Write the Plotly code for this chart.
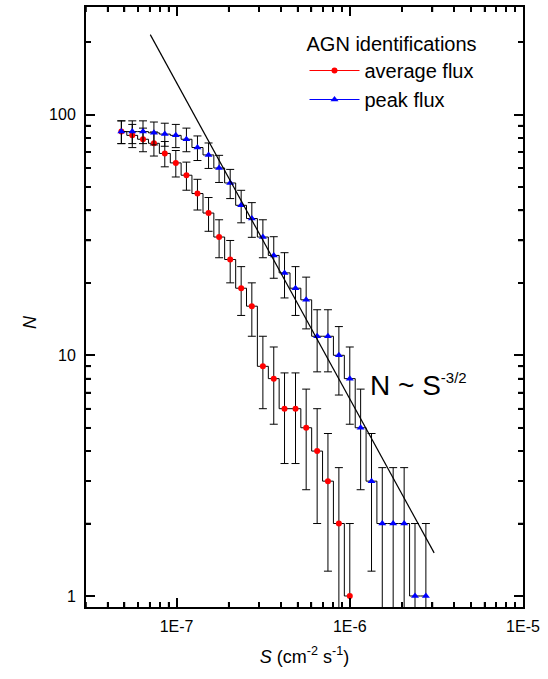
import numpy as np
import plotly.graph_objects as go

# Flux bins (cm^-2 s^-1), logarithmically spaced
flux = [4.8e-8, 5.55e-8, 6.4e-8, 7.4e-8, 8.55e-8, 9.9e-8, 1.14e-7, 1.32e-7,
        1.53e-7, 1.76e-7, 2.04e-7, 2.36e-7, 2.72e-7, 3.15e-7, 3.64e-7, 4.2e-7,
        4.86e-7, 5.6e-7, 6.48e-7, 7.48e-7, 8.65e-7, 1.0e-6, 1.155e-6, 1.335e-6,
        1.54e-6, 1.78e-6, 2.06e-6, 2.38e-6, 2.75e-6]

# Cumulative counts of AGN identifications above each flux
n_average = [85, 82, 79, 76, 69, 63, 56, 47, 39, 31, 25, 19, 16, 9, 8, 6, 6,
             5, 4, 3, 2, 1]
n_peak = [85, 85, 85, 84, 83, 82, 79, 73, 68, 60, 52, 42, 37, 31, 26, 22, 19,
          17, 12, 12, 10, 8, 5, 3, 2, 2, 2, 1, 1]

# Reference power-law line endpoints
law_s = [7.05e-8, 3.07e-6]
law_n = [215, 1.51]

FONT = "Liberation Sans, Arial, sans-serif"

X_MIN, X_MAX = 3e-8, 1e-5
Y_MIN, Y_MAX = 0.9, 280

# Minor tick positions (2..9 in each decade) inside the axis ranges
x_minor = [m * 10.0 ** e for e in (-8, -7, -6) for m in range(2, 10)
           if X_MIN <= m * 10.0 ** e <= X_MAX]
y_minor = [m * 10.0 ** e for e in (0, 1, 2) for m in range(2, 10)
           if Y_MIN <= m * 10.0 ** e <= Y_MAX]

fig = go.Figure()


def add_series(counts, color, symbol, size, name):
    s = flux[:len(counts)]
    err = np.sqrt(np.array(counts, dtype=float))
    fig.add_trace(go.Scatter(
        x=s, y=counts, mode="lines+markers",
        line=dict(color="black", width=1, shape="hvh"),
        marker=dict(color=color, symbol=symbol, size=size, line=dict(width=0)),
        error_y=dict(type="data", array=err, color="black", thickness=1, width=4),
        showlegend=False, hoverinfo="skip",
    ))
    # legend entry
    fig.add_trace(go.Scatter(
        x=[None], y=[None], mode="lines+markers", name=name,
        line=dict(color=color, width=1),
        marker=dict(color=color, symbol=symbol, size=size),
    ))


add_series(n_average, "#ff0000", "circle", 6, "average flux")
add_series(n_peak, "#0000ff", "triangle-up", 7, "peak flux")

fig.add_trace(go.Scatter(
    x=law_s, y=law_n, mode="lines", line=dict(color="black", width=1.2),
    showlegend=False, hoverinfo="skip",
))

fig.add_annotation(
    x=np.log10(1.27e-6), y=np.log10(7.5), xref="x", yref="y",
    text="N ~ S<sup><span style='font-size:15px'>-3/2</span></sup>",
    showarrow=False, xanchor="left", yanchor="middle",
    font=dict(family=FONT, size=28, color="black"),
)

# y-axis title placed as a rotated annotation
fig.add_annotation(
    x=-0.128, y=0.475, xref="paper", yref="paper",
    text="<i>N</i>", textangle=-90, showarrow=False,
    xanchor="center", yanchor="middle",
    font=dict(family=FONT, size=18, color="black"),
)

# Minor ticks on all four sides: short pixel-length lines at data positions
tick_line = dict(color="black", width=1.6)
MINOR_LEN = 5
for v in x_minor:
    for anchor, sign in ((0, 1), (1, -1)):
        fig.add_shape(type="line", xref="x", yref="paper",
                      x0=v, x1=v, ysizemode="pixel", yanchor=anchor,
                      y0=0, y1=sign * MINOR_LEN, line=tick_line)
for v in y_minor:
    for anchor, sign in ((0, 1), (1, -1)):
        fig.add_shape(type="line", xref="paper", yref="y",
                      y0=v, y1=v, xsizemode="pixel", xanchor=anchor,
                      x0=0, x1=sign * MINOR_LEN, line=tick_line)

axis_common = dict(
    type="log", showline=True, linecolor="black", linewidth=2,
    mirror="allticks", ticks="inside", ticklen=9, tickwidth=1.6,
    tickcolor="black", showgrid=False, zeroline=False,
    tickfont=dict(family=FONT, size=16, color="black"),
)


def minor_ticks(vals):
    return dict(ticks="inside", ticklen=5, tickwidth=1.6, tickcolor="black",
                showgrid=False, tickmode="array", tickvals=vals)


fig.update_layout(
    xaxis=dict(
        **axis_common, range=[np.log10(X_MIN), np.log10(X_MAX)],
        tickvals=[1e-7, 1e-6, 1e-5], ticktext=["1E-7", "1E-6", "1E-5"],
        minor=minor_ticks(x_minor),
        ticklabelstandoff=4,
        title=dict(text="<i>S</i> (cm<sup>-2</sup> s<sup>-1</sup>)",
                   font=dict(family=FONT, size=18, color="black"), standoff=16),
    ),
    yaxis=dict(
        **axis_common, range=[np.log10(Y_MIN), np.log10(Y_MAX)],
        tickvals=[1, 10, 100], ticktext=["1", "10", "100"],
        minor=minor_ticks(y_minor),
        ticklabelstandoff=5,
    ),
)

fig.update_layout(
    width=548, height=679,
    margin=dict(l=86, r=25, t=5, b=72),
    plot_bgcolor="white", paper_bgcolor="white",
    legend=dict(
        x=0.5, y=0.97, xanchor="left", yanchor="top",
        title=dict(text="AGN identifications",
                   font=dict(family=FONT, size=20, color="black")),
        font=dict(family=FONT, size=20, color="black"),
        bgcolor="rgba(0,0,0,0)", itemwidth=50, tracegroupgap=0,
    ),
)

fig.write_html("out.html")
